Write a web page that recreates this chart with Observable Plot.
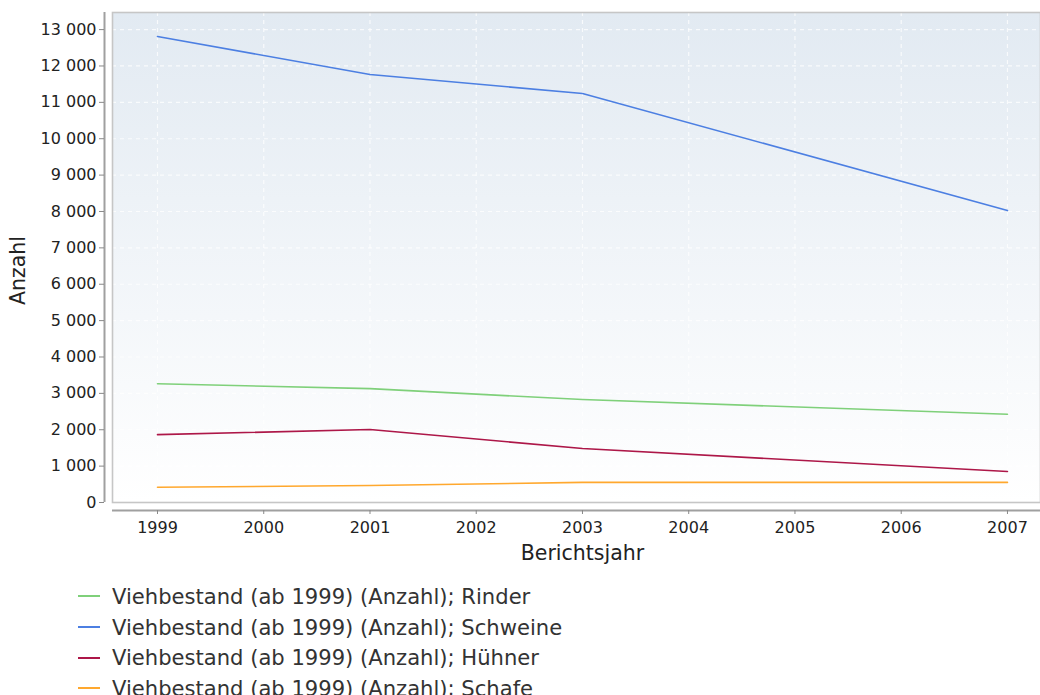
<!DOCTYPE html>
<html>
<head>
<meta charset="utf-8">
<script src="https://cdn.jsdelivr.net/npm/d3@7"></script>
<script src="https://cdn.jsdelivr.net/npm/@observablehq/plot@0.6"></script>
<style>
  html, body { margin: 0; padding: 0; background: #fff; }
  body { width: 1040px; font-family: "DejaVu Sans", sans-serif; overflow: hidden; }
  #legend { padding-top: 6px; }
  .row { display: flex; align-items: center; height: 30.7px; font-size: 21.1px; color: #333; white-space: nowrap; }
  .sw { width: 22px; height: 2px; margin-left: 78px; margin-right: 12px; flex: none; }
</style>
</head>
<body>
<div id="chart"></div>
<div id="legend"></div>
<script>
const years = [1999, 2001, 2003, 2007];
const seriesNames = [
  "Viehbestand (ab 1999) (Anzahl); Rinder",
  "Viehbestand (ab 1999) (Anzahl); Schweine",
  "Viehbestand (ab 1999) (Anzahl); Hühner",
  "Viehbestand (ab 1999) (Anzahl); Schafe"
];
const rinder   = [3265, 3130, 2830, 2425];
const schweine = [12810, 11765, 11243, 8026];
const huehner  = [1865, 2006, 1484, 852];
const schafe   = [418, 467, 552, 553];
const colors = ["#7fd07a", "#4c7fe2", "#ad1748", "#ffa82e"];
const xTicks = [1999, 2000, 2001, 2002, 2003, 2004, 2005, 2006, 2007];
const yTicks = d3.range(0, 14000, 1000);
const xDomain = [1998.5765, 2007.311];
const yDomain = [0, 13470];

const allValues = [rinder, schweine, huehner, schafe];
const data = [];
seriesNames.forEach((s, i) => years.forEach((y, j) => data.push({series: s, year: y, value: allValues[i][j]})));

const fmt = d3.formatLocale({decimal: ",", thousands: " ", grouping: [3], currency: ["", ""]}).format(",");

const plot = Plot.plot({
  width: 1040,
  height: 575,
  marginLeft: 112,
  marginRight: 0,
  marginTop: 12,
  marginBottom: 73,
  style: {fontFamily: "DejaVu Sans, sans-serif", fontSize: "16px", color: "#222", background: "transparent"},
  x: {domain: xDomain, ticks: xTicks},
  y: {domain: yDomain, ticks: yTicks},
  color: {domain: seriesNames, range: colors},
  marks: [
    Plot.frame({fill: "url(#panelGrad)", stroke: "none"}),
    Plot.gridY(yTicks, {stroke: "#ffffff", strokeOpacity: 0.75, strokeWidth: 1.2, strokeDasharray: "4,4"}),
    Plot.gridX(xTicks, {stroke: "#ffffff", strokeOpacity: 0.75, strokeWidth: 1.2, strokeDasharray: "4,4"}),
    Plot.frame({stroke: "#c6c6c6", strokeWidth: 1.6, fill: "none"}),
    Plot.lineY(data, {x: "year", y: "value", z: "series", stroke: "series", strokeWidth: 1.6}),
    Plot.ruleX([xDomain[0]], {dx: -8, stroke: "#a0a0a0", strokeWidth: 2}),
    Plot.ruleY([0], {dy: 8, stroke: "#a0a0a0", strokeWidth: 2}),
    Plot.axisY(yTicks, {dx: -8, tickSize: 5, tickPadding: 3, tickFormat: fmt, stroke: "#888", fill: "#222", label: null}),
    Plot.axisX(xTicks, {dy: 8, tickSize: 4, tickPadding: 7, tickFormat: d => String(d), stroke: "#888", fill: "#222", label: null}),
    Plot.text(["Anzahl"], {frameAnchor: "left", textAnchor: "middle", lineAnchor: "middle", dx: -94, dy: 13, rotate: -90, fontSize: 20.5, fill: "#222"}),
    Plot.text(["Berichtsjahr"], {frameAnchor: "bottom", textAnchor: "middle", lineAnchor: "middle", dx: 6, dy: 51, fontSize: 20.5, fill: "#222"})
  ]
});

// gradient definition for panel background
const svg = d3.select(plot);
const defs = svg.insert("defs", ":first-child");
const g = defs.append("linearGradient").attr("id", "panelGrad").attr("x1", 0).attr("y1", 0).attr("x2", 0).attr("y2", 1);
g.append("stop").attr("offset", "0%").attr("stop-color", "#e2eaf2");
g.append("stop").attr("offset", "100%").attr("stop-color", "#ffffff");

document.getElementById("chart").appendChild(plot);

const legend = d3.select("#legend");
seriesNames.forEach((s, i) => {
  const row = legend.append("div").attr("class", "row");
  row.append("div").attr("class", "sw").style("background", colors[i]);
  row.append("span").text(s);
});
</script>
</body>
</html>
